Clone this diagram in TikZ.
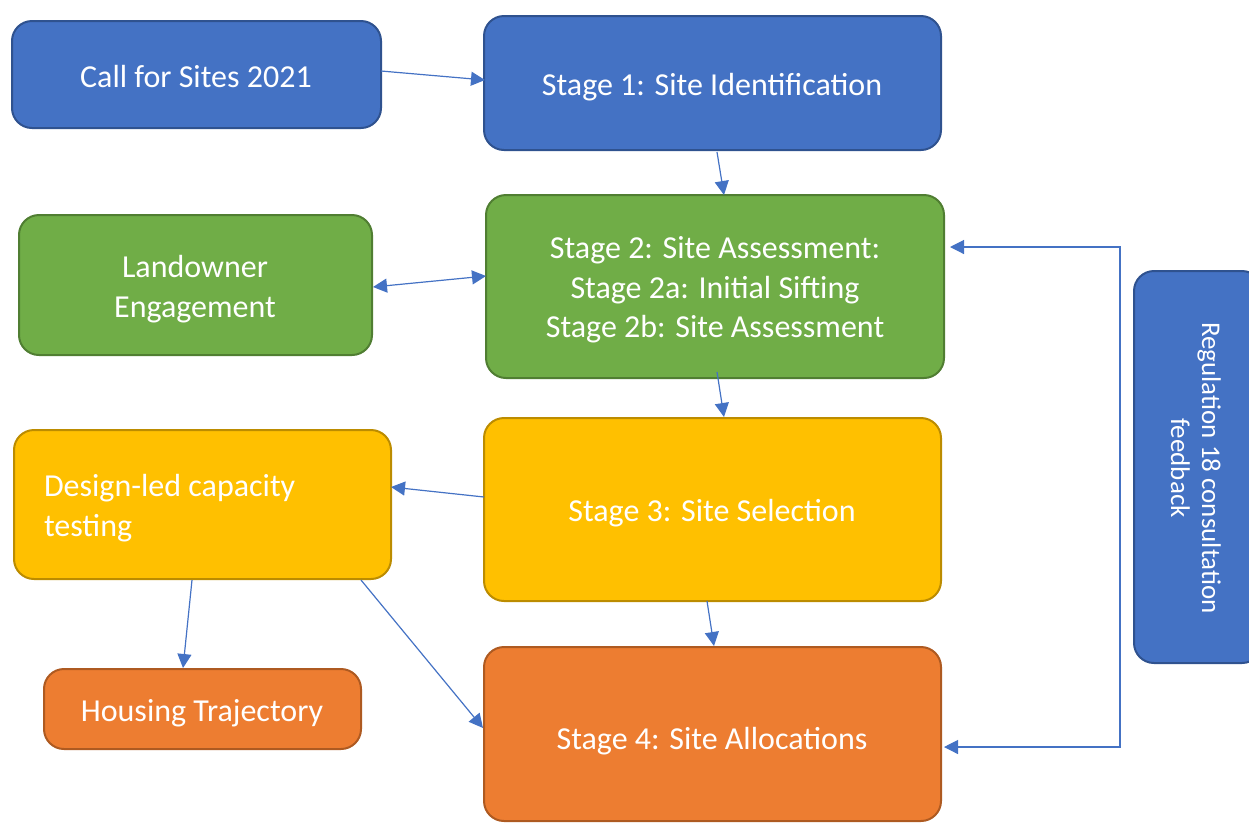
\documentclass[tikz,border=0pt]{standalone}
\usepackage{fontspec}
\setmainfont{Carlito}
\usetikzlibrary{arrows.meta}
\definecolor{bfill}{HTML}{4472C4}\definecolor{bline}{HTML}{2F528F}
\definecolor{gfill}{HTML}{70AD47}\definecolor{gline}{HTML}{507E32}
\definecolor{yfill}{HTML}{FFC000}\definecolor{yline}{HTML}{BC8C00}
\definecolor{ofill}{HTML}{ED7D31}\definecolor{oline}{HTML}{AE5A21}
\tikzset{
  box/.style={rounded corners=20pt, line width=2pt, text=white, font=\fontsize{32}{39.5}\selectfont, align=center},
  bluebox/.style={box, fill=bfill, draw=bline},
  greenbox/.style={box, fill=gfill, draw=gline},
  yellowbox/.style={box, fill=yfill, draw=yline},
  orangebox/.style={box, fill=ofill, draw=oline},
  conn/.style={draw=bfill, line width=1.2pt, -{Triangle[length=14pt,width=14pt]}},
  conn2/.style={draw=bfill, line width=1.2pt, {Triangle[length=14pt,width=14pt]}-{Triangle[length=14pt,width=14pt]}},
}
\begin{document}
\begin{tikzpicture}[x=1pt,y=-1pt]
\useasboundingbox (0,0) rectangle (1249,823);
% boxes
\path[bluebox] (12,21) rectangle (381,128);
\node[box] (call) at (196,77) {Call for Sites 2021};
\path[bluebox] (484,16) rectangle (941,150);
\node[box] (s1) at (712,87) {Stage 1: Site Identification};
\path[greenbox] (19,215) rectangle (372,355);
\node[box] (land) at (195,289) {Landowner\\Engagement};
\path[greenbox] (486,195) rectangle (944,378);
\node[box] (s2) at (715,290) {Stage 2: Site Assessment:\\Stage 2a: Initial Sifting\\Stage 2b: Site Assessment};
\path[yellowbox] (14,430) rectangle (391,579);
\node[box, align=left, anchor=west, inner xsep=0pt] (design) at (43,508) {Design-led capacity\\testing};
\path[yellowbox] (484,418) rectangle (941,601);
\node[box] (s3) at (712,513) {Stage 3: Site Selection};
\path[orangebox] (44,669) rectangle (361,749);
\node[box] (house) at (202,713) {Housing Trajectory};
\path[orangebox] (484,647) rectangle (941,821);
\node[box] (s4) at (712,741) {Stage 4: Site Allocations};
\path[bluebox] (1134,271) rectangle (1262,663);
\node[box, rotate=-90, font=\fontsize{27}{31}\selectfont] (reg) at (1196,468) {Regulation 18 consultation\\feedback};
% anchor coordinates
\coordinate (a1) at (381,71); \coordinate (b1) at (485,80);
\coordinate (a2) at (717,152); \coordinate (b2) at (724,195);
\coordinate (a3) at (373,287); \coordinate (b3) at (486,276);
\coordinate (a4) at (717,372); \coordinate (b4) at (724,417);
\coordinate (a5) at (484,497); \coordinate (b5) at (391,487);
\coordinate (a6) at (192,580); \coordinate (b6) at (183,668);
\coordinate (a7) at (361,580); \coordinate (b7) at (483,728);
\coordinate (a8) at (707,601); \coordinate (b8) at (714,646);
\coordinate (f1) at (1120,247); \coordinate (f2) at (1120,747);
\coordinate (t1) at (950,247); \coordinate (t2) at (944,747);
% connectors
\draw[conn] (a1) -- (b1);
\draw[conn] (a2) -- (b2);
\draw[conn2] (a3) -- (b3);
\draw[conn] (a4) -- (b4);
\draw[conn] (a5) -- (b5);
\draw[conn] (a6) -- (b6);
\draw[conn] (a7) -- (b7);
\draw[conn] (a8) -- (b8);
\draw[conn2] (t1) -- (f1) -- (f2) -- (t2);
\end{tikzpicture}
\end{document}
